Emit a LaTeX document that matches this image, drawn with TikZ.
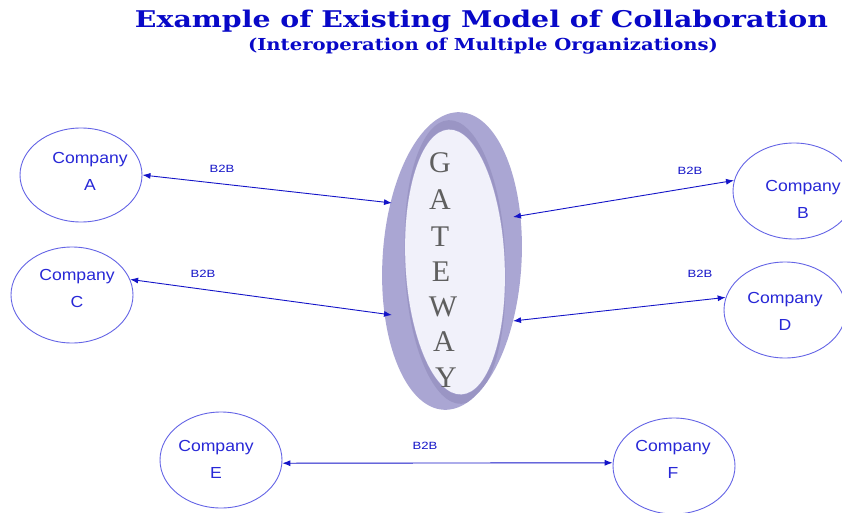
\documentclass[tikz,border=0pt]{standalone}
\usepackage{fontspec}
\usepackage{graphicx}
\setmainfont{Liberation Sans}
\newfontfamily\titlefont{DejaVu Serif}
\newfontfamily\gwfont{Liberation Serif}
\usetikzlibrary{arrows.meta,shapes.geometric}
\definecolor{titleblue}{RGB}{8,8,200}
\definecolor{compline}{RGB}{100,100,230}
\definecolor{comptext}{RGB}{40,40,215}
\definecolor{connblue}{RGB}{20,20,200}
\definecolor{ringfill}{RGB}{170,166,211}
\definecolor{ringdark}{RGB}{125,120,170}
\definecolor{innerfill}{RGB}{241,241,250}
\definecolor{gwgray}{RGB}{95,95,95}
\newcommand{\cotext}[1]{\scalebox{1.1}[1]{Company}\\\scalebox{1.1}[1]{#1}}
\tikzset{
  company/.style={ellipse, draw=compline, line width=0.9pt, inner sep=0pt},
  ctext/.style={text=comptext, font=\fontsize{16}{27}\selectfont, align=center, inner sep=0pt},
  conn/.style={draw=connblue, line width=0.9pt, {Latex[length=8pt,width=6pt]}-{Latex[length=8pt,width=6pt]}},
  lbl/.style={text=connblue, font=\fontsize{10.5}{12}\selectfont, inner sep=0pt},
  gwletter/.style={text=gwgray, font=\gwfont\fontsize{30}{32}\selectfont, inner sep=0pt},
  titlestyle/.style={text=titleblue, inner sep=0pt, anchor=base},
  innerell/.style={ellipse, minimum width=100pt, minimum height=266pt, inner sep=0pt, rotate=2.8}
}
\begin{document}
\begin{tikzpicture}[x=1pt,y=-1pt]
\useasboundingbox (0,0) rectangle (842,513);
\fill[white] (0,0) rectangle (842,513);

% titles
\node[titlestyle, font=\titlefont\bfseries\fontsize{23}{26}\selectfont] (title) at (481.5,28)
  {\resizebox{693pt}{\height}{Example of Existing Model of Collaboration}};
\node[titlestyle, font=\titlefont\bfseries\fontsize{16.5}{19}\selectfont] (subtitle) at (483,50.5)
  {\resizebox{470pt}{\height}{(Interoperation of Multiple Organizations)}};

% gateway
\node[ellipse, fill=ringfill, minimum width=139pt, minimum height=298pt, inner sep=0pt, rotate=-3.3] (G) at (452,261) {};
\begin{scope}
  \clip[rotate around={-3.3:(452,261)}] (452,261) ellipse [x radius=69.5, y radius=149];
  \node[innerell, fill=ringdark, opacity=0.35] (Gt) at (455,253) {};
  \node[innerell, fill=ringdark, opacity=0.35] (Gb) at (455,271) {};
\end{scope}
\node[innerell, fill=ringfill] (Gm) at (455,262) {};
\node[innerell, fill=innerfill, minimum width=99pt, minimum height=265pt] (Gi) at (455,262) {};
\foreach \l/\x/\y [count=\i] in {G/440/163, A/440/200, T/440/237, E/441/272, W/443/307, A/444/342, Y/446/378}
  \node[gwletter] (gw\i) at (\x,\y) {\l};

% companies
\node[company, minimum width=122pt, minimum height=94pt] (A) at (81,175) {};
\node[company, minimum width=122pt, minimum height=96pt] (B) at (794,191) {};
\node[company, minimum width=122pt, minimum height=96pt] (C) at (72,295) {};
\node[company, minimum width=122pt, minimum height=96pt] (D) at (785,310) {};
\node[company, minimum width=122pt, minimum height=96pt] (E) at (221,460) {};
\node[company, minimum width=122pt, minimum height=96pt] (F) at (674,466) {};

\node[ctext] (tA) at (90,171.5) {\cotext{A}};
\node[ctext] (tB) at (803,199.5) {\cotext{B}};
\node[ctext] (tC) at (77,288.5) {\cotext{C}};
\node[ctext] (tD) at (785,311.5) {\cotext{D}};
\node[ctext] (tE) at (216,459.5) {\cotext{E}};
\node[ctext] (tF) at (673,459.5) {\cotext{F}};

% connectors
\draw[conn] (A.east) -- ([shift={(-60,-58)}]G.center);
\draw[conn] (C.15) -- ([shift={(-60,54)}]G.center);
\draw[conn] (B.170) -- ([shift={(61,-44)}]G.center);
\draw[conn] (D.168) -- ([shift={(61,60)}]G.center);
\draw[conn] (E.-3) -- (F.177);

% labels
\node[lbl] (l1) at (222,169) {\scalebox{1.25}[1]{B2B}};
\node[lbl] (l2) at (203,274) {\scalebox{1.25}[1]{B2B}};
\node[lbl] (l3) at (690,171) {\scalebox{1.25}[1]{B2B}};
\node[lbl] (l4) at (700,274) {\scalebox{1.25}[1]{B2B}};
\node[lbl] (l5) at (425,446) {\scalebox{1.25}[1]{B2B}};
\end{tikzpicture}
\end{document}
